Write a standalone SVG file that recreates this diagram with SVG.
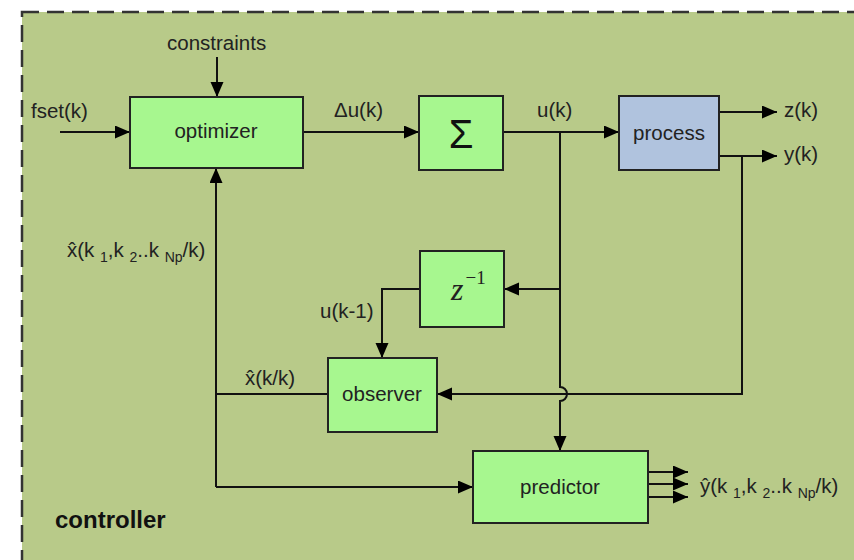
<svg xmlns="http://www.w3.org/2000/svg" width="854" height="560" viewBox="0 0 854 560">
  <style>
    .frame { fill: #b8ca89; stroke: #333; stroke-width: 2.5; stroke-dasharray: 17 8; }
    .box { fill: #a7f78f; stroke: #222; stroke-width: 2; }
    .proc { fill: #b0c3de; stroke: #222; stroke-width: 2; }
    .wire { fill: none; stroke: #111; stroke-width: 2; }
    .lbl { font-family: "Liberation Sans", Arial, sans-serif; font-size: 20.5px; fill: #222; }
    .sub { font-size: 14px; }
    .title { font-family: "Liberation Sans", Arial, sans-serif; font-size: 24px; font-weight: bold; fill: #111; }
  </style>
  <defs>
    <marker id="arrow" markerUnits="userSpaceOnUse" markerWidth="16" markerHeight="14" refX="15" refY="6.5" orient="auto">
      <path d="M0,0 L15,6.5 L0,13 z" fill="#000"/>
    </marker>
  </defs>

  <rect fill="#fff" x="0" y="0" width="854" height="560"/>
  <!-- controller boundary -->
  <rect class="frame" x="22" y="12" width="860" height="580"/>

  <!-- connectors -->
  <g id="connectors">
    <path class="wire" d="M217,57 V97" marker-end="url(#arrow)"/>
    <path class="wire" d="M60,132 H130" marker-end="url(#arrow)"/>
    <path class="wire" d="M303,132 H419" marker-end="url(#arrow)"/>
    <path class="wire" d="M503,132 H619" marker-end="url(#arrow)"/>
    <path class="wire" d="M719,112 H777" marker-end="url(#arrow)"/>
    <path class="wire" d="M719,156 H777" marker-end="url(#arrow)"/>
    <path class="wire" d="M742,156 V394 H437" marker-end="url(#arrow)"/>
    <path class="wire" d="M560,132 V387 A7,7 0 0 1 560,401 V451" marker-end="url(#arrow)"/>
    <path class="wire" d="M560,289 H504" marker-end="url(#arrow)"/>
    <path class="wire" d="M420,289 H382 V358" marker-end="url(#arrow)"/>
    <path class="wire" d="M328,394 H216"/>
    <path class="wire" d="M216,487 V168" marker-end="url(#arrow)"/>
    <path class="wire" d="M216,487 H473" marker-end="url(#arrow)"/>
    <path class="wire" d="M648,472 H688" marker-end="url(#arrow)"/>
    <path class="wire" d="M648,484 H688" marker-end="url(#arrow)"/>
    <path class="wire" d="M648,497 H688" marker-end="url(#arrow)"/>
  </g>

  <!-- blocks -->
  <g id="optimizer">
    <rect class="box" x="130" y="97" width="173" height="71"/>
    <text class="lbl" x="216" y="138" text-anchor="middle">optimizer</text>
  </g>
  <g id="sum">
    <rect class="box" x="419" y="96" width="84" height="74"/>
    <text x="461" y="148" text-anchor="middle" font-family="Liberation Sans, Arial, sans-serif" font-size="40" fill="#111">Σ</text>
  </g>
  <g id="process">
    <rect class="proc" x="619" y="96" width="100" height="74"/>
    <text class="lbl" x="669" y="140" text-anchor="middle">process</text>
  </g>
  <g id="delay">
    <rect class="box" x="420" y="251" width="84" height="76"/>
    <text x="451" y="300" font-family="Liberation Serif, 'Times New Roman', serif" font-size="32" font-style="italic" fill="#222">z<tspan font-style="normal" font-size="19" dx="2" dy="-16">−1</tspan></text>
  </g>
  <g id="observer">
    <rect class="box" x="328" y="358" width="109" height="74"/>
    <text class="lbl" x="382" y="401" text-anchor="middle">observer</text>
  </g>
  <g id="predictor">
    <rect class="box" x="473" y="451" width="175" height="72"/>
    <text class="lbl" x="560" y="494" text-anchor="middle">predictor</text>
  </g>

  <!-- signal labels -->
  <g id="labels">
    <text class="lbl" x="167" y="50">constraints</text>
    <text class="lbl" x="31" y="118">fset(k)</text>
    <text class="lbl" x="334" y="117">Δu(k)</text>
    <text class="lbl" x="537" y="117">u(k)</text>
    <text class="lbl" x="784" y="117">z(k)</text>
    <text class="lbl" x="784" y="161">y(k)</text>
    <text class="lbl" x="320" y="318">u(k-1)</text>
    <text class="lbl" x="245" y="385">x̂(k/k)</text>
    <text class="lbl" x="67" y="257">x̂(k <tspan class="sub" dy="5">1</tspan><tspan dy="-5">,k </tspan><tspan class="sub" dy="5">2</tspan><tspan dy="-5">..k </tspan><tspan class="sub" dy="5">Np</tspan><tspan dy="-5">/k)</tspan></text>
    <text class="lbl" x="700" y="493">ŷ(k <tspan class="sub" dy="5">1</tspan><tspan dy="-5">,k </tspan><tspan class="sub" dy="5">2</tspan><tspan dy="-5">..k </tspan><tspan class="sub" dy="5">Np</tspan><tspan dy="-5">/k)</tspan></text>
    <text class="title" x="55" y="528">controller</text>
  </g>
</svg>
